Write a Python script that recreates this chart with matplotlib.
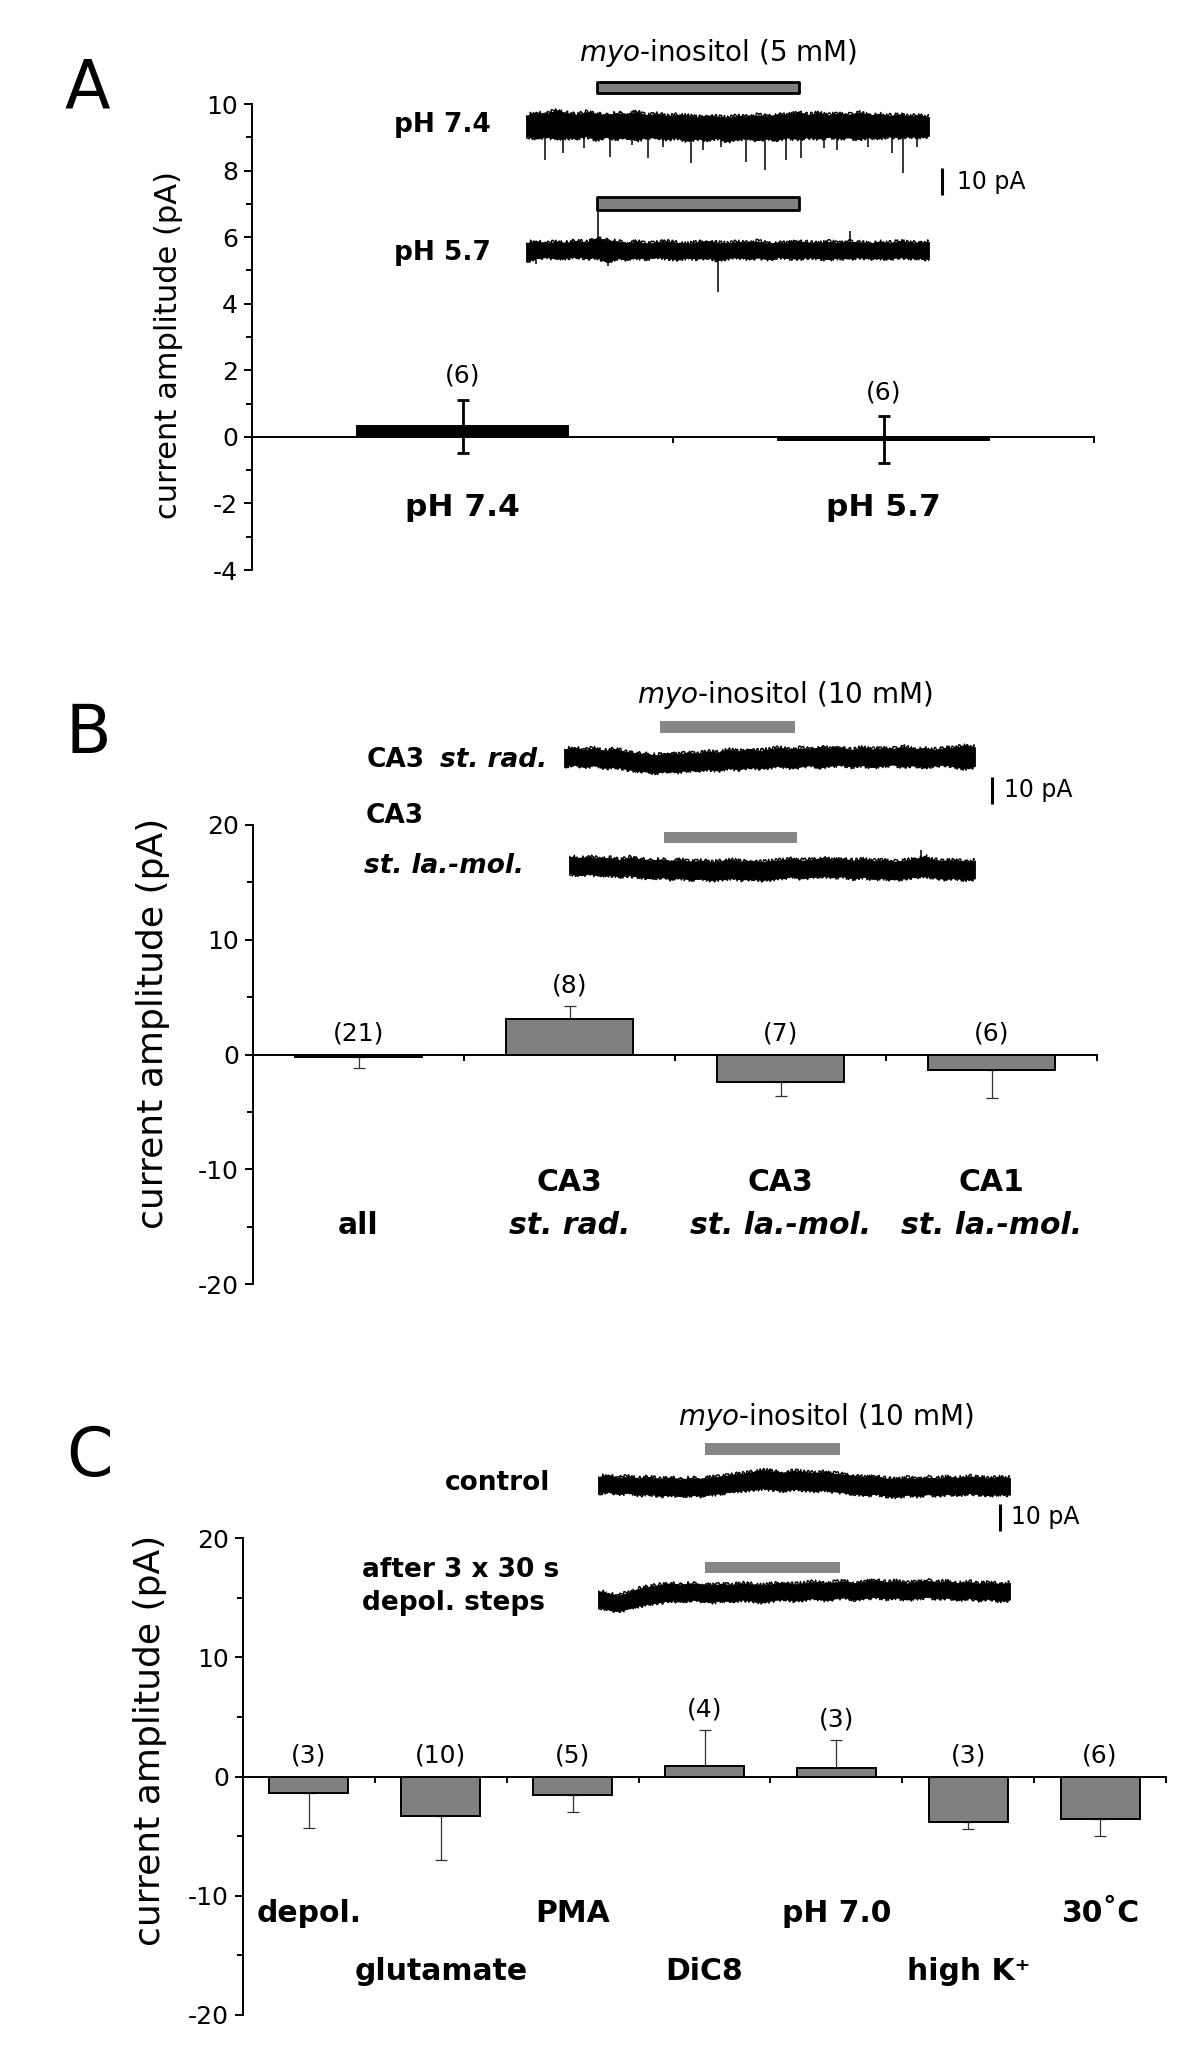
import matplotlib
matplotlib.use('Agg')
import matplotlib.pyplot as plt
import numpy as np
from matplotlib.ticker import MultipleLocator
from matplotlib.transforms import blended_transform_factory

plt.rcParams['font.family'] = ['DejaVu Sans']
plt.rcParams['mathtext.fontset'] = 'dejavusans'
plt.rcParams['axes.unicode_minus'] = False

# ---------------- data ----------------
A_cats = ['pH 7.4', 'pH 5.7']
A_vals = [0.32, -0.08]
A_err = [0.80, 0.70]
A_n = ['(6)', '(6)']

B_cats_top = ['', 'CA3', 'CA3', 'CA1']
B_cats_bot = ['all', 'st. rad.', 'st. la.-mol.', 'st. la.-mol.']
B_vals = [-0.20, 3.08, -2.44, -1.37]
B_err = [0.96, 1.16, 1.22, 2.41]
B_n = ['(21)', '(8)', '(7)', '(6)']

C_cats = ['depol.', 'glutamate', 'PMA', 'DiC8', 'pH 7.0', 'high K\u207a', '30\u02daC']
C_vals = [-1.42, -3.30, -1.51, 0.89, 0.73, -3.83, -3.55]
C_err = [2.94, 3.74, 1.45, 2.99, 2.31, 0.56, 1.42]
C_n = ['(3)', '(10)', '(5)', '(4)', '(3)', '(3)', '(6)']

# example traces: upper / lower envelope (pA), 120 s recordings
A74_hi = [3.4, 4.6, 4.0, 5.4, 4.4, 3.8, 4.8, 4.2, 3.6, 4.4, 4.0, 4.8, 3.6, 4.2, 3.2, 3.8, 3.4, 2.8, 3.6, 3.0,
          2.6, 3.4, 3.0, 3.6, 3.2, 4.0, 3.6, 4.8, 3.8, 4.4, 3.6, 4.2, 3.8, 4.6, 3.6, 4.0, 3.4, 3.8, 3.2, 3.6, 3.0]
A74_lo = [-4.0, -5.0, -4.2, -5.2, -4.6, -4.8, -4.0, -5.4, -4.4, -5.0, -4.6, -5.6, -4.4, -4.8, -5.2, -4.6, -5.8,
          -5.0, -5.4, -4.8, -6.0, -5.2, -4.8, -5.6, -5.0, -5.4, -4.6, -5.2, -4.4, -5.0, -4.4, -4.8, -4.6, -5.2,
          -4.4, -4.8, -4.2, -4.6, -4.2, -4.4, -4.0]
A74_spike_t = [5.8, 11.0, 17.3, 25.0, 31.6, 36.2, 40.8, 49.1, 52.8, 58.1, 65.4, 71.3, 77.3, 82.0, 88.6,
               92.5, 101.9, 109.1, 112.2, 116.4]
A74_spike_pA = [-13.0, -10.5, -8.6, -11.7, -7.4, -12.3, -8.0, -14.2, -9.3, -8.0, -13.6, -16.7, -13.0,
                -12.3, -8.6, -9.3, -8.0, -10.5, -17.9, -8.0]

A57_hi = [2.6, 3.2, 2.4, 3.0, 2.6, 3.4, 2.8, 4.4, 3.6, 3.2, 2.6, 3.0, 2.4, 2.8, 3.2, 2.6, 2.2, 2.8, 3.4, 2.6,
          2.4, 3.0, 2.6, 3.2, 2.4, 2.8, 2.6, 3.2, 2.8, 2.4, 3.0, 2.6, 3.2, 2.8, 2.4, 3.0, 2.6, 3.2, 2.8, 2.6, 3.0]
A57_lo = [-4.0, -3.0, -2.6, -3.2, -2.8, -2.4, -3.0, -2.6, -4.4, -3.0, -3.4, -2.8, -3.2, -2.6, -3.0, -3.4, -2.8,
          -3.2, -2.6, -3.8, -3.0, -2.6, -3.2, -2.8, -3.4, -2.6, -3.0, -3.2, -2.6, -3.0, -3.4, -2.8, -3.2, -2.6,
          -3.0, -2.8, -3.2, -2.6, -3.0, -2.8, -3.4]
A57_spike_t = [57.2, 24.4, 3.0]
A57_spike_pA = [-15.6, -6.0, -5.0]
A57_up_t = [96.6]
A57_up_pA = [7.0]

B1_hi = [3.2, 3.8, 3.0, 3.6, 2.6, 3.4, 2.2, 1.8, 1.4, 1.0, 1.8, 1.2, 2.0, 1.6, 2.4, 2.0, 3.0, 2.4, 3.4, 2.6,
         3.2, 3.8, 3.0, 3.6, 3.2, 4.2, 3.4, 3.8, 3.0, 3.8, 3.2, 3.6, 3.4, 4.2, 3.2, 3.6, 3.0, 3.6, 3.8, 4.6, 4.0]
B1_lo = [-3.0, -2.4, -3.4, -2.6, -3.6, -3.2, -4.0, -4.6, -5.0, -5.4, -4.8, -5.2, -4.4, -4.8, -4.0, -4.6, -3.6,
         -4.2, -3.2, -3.8, -3.4, -2.8, -3.6, -3.2, -2.6, -3.4, -2.8, -2.4, -3.2, -2.6, -3.4, -2.8, -2.4, -3.2,
         -2.6, -3.4, -2.8, -2.4, -3.2, -3.8, -3.0]
B2_hi = [3.6, 2.8, 3.4, 2.6, 3.0, 2.2, 3.2, 2.6, 2.0, 2.4, 1.8, 2.2, 1.6, 2.0, 1.4, 1.8, 2.2, 1.6, 2.0, 1.4,
         1.8, 2.2, 2.6, 2.0, 2.4, 3.0, 2.2, 2.6, 2.0, 2.4, 1.8, 2.2, 1.6, 2.0, 2.4, 3.6, 2.2, 1.8, 2.2, 1.6, 2.0]
B2_lo = [-2.6, -3.4, -2.8, -3.6, -3.2, -3.8, -3.4, -4.0, -4.6, -4.0, -4.8, -4.4, -5.0, -4.6, -5.2, -4.8, -4.4,
         -5.0, -4.6, -5.2, -4.8, -4.4, -3.8, -4.6, -4.0, -3.6, -4.2, -3.8, -4.6, -4.0, -4.8, -4.4, -5.0, -4.6,
         -4.0, -3.6, -4.2, -4.8, -4.4, -5.0, -4.6]
B2_up_t = [104.0]
B2_up_pA = [6.0]

C1_hi = [3.0, 3.6, 2.6, 3.2, 2.4, 3.0, 2.2, 2.8, 2.0, 2.6, 2.2, 2.8, 3.2, 3.8, 4.2, 4.8, 5.4, 5.0, 4.6, 5.2,
         4.8, 4.4, 4.8, 4.2, 3.8, 3.4, 2.8, 3.2, 2.4, 2.0, 2.6, 2.2, 2.8, 2.4, 3.0, 2.6, 3.2, 2.8, 2.4, 3.0, 2.6]
C1_lo = [-3.0, -2.4, -3.4, -2.8, -3.6, -3.2, -4.0, -3.4, -4.2, -3.6, -4.0, -3.4, -3.0, -2.4, -2.0, -1.6, -1.2,
         -1.6, -2.0, -1.4, -1.8, -2.2, -1.8, -2.4, -2.8, -3.2, -3.8, -3.2, -4.0, -4.4, -3.6, -4.0, -3.4, -3.8,
         -3.2, -3.6, -3.0, -3.4, -3.8, -3.2, -3.6]
C2_hi = [0.4, -0.6, -1.4, -0.2, 1.2, 2.0, 2.6, 3.2, 2.6, 3.2, 2.8, 2.4, 3.0, 2.6, 3.2, 2.8, 2.4, 3.0, 3.6, 2.8,
         3.2, 3.8, 3.0, 3.6, 4.0, 3.2, 3.8, 4.4, 3.6, 4.0, 3.2, 3.8, 4.2, 3.6, 4.0, 3.2, 3.8, 3.0, 3.6, 2.8, 3.4]
C2_lo = [-5.4, -6.4, -7.2, -6.0, -5.0, -4.2, -3.8, -3.0, -3.6, -2.8, -3.2, -3.8, -3.0, -3.6, -2.8, -3.2, -3.8,
         -3.0, -2.4, -3.2, -2.8, -2.2, -3.0, -2.4, -2.0, -2.8, -2.2, -1.8, -2.4, -2.0, -2.8, -2.2, -1.8, -2.4,
         -2.0, -2.8, -2.2, -3.0, -2.4, -3.2, -2.8]

T_REC = 120.0
A_appl = (21.1, 81.3)
B_appl = (28.0, 67.4)
C_appl = (31.2, 70.5)

# ---------------- figure ----------------
W, H = 1200, 2063
fig = plt.figure(figsize=(W / 100, H / 100), dpi=100)

NOISE = (2.2, 2.5, 3.0)  # sketch style for trace edges (amplitude px, length px, randomness)


def px_rect(x0, y0, x1, y1):
    return [x0 / W, 1 - y1 / H, (x1 - x0) / W, (y1 - y0) / H]


def style_axes(ax, ylim, major, minor, ncat):
    ax.set_xlim(0.5, ncat + 0.5)
    ax.set_ylim(*ylim)
    ax.spines['top'].set_visible(False)
    ax.spines['right'].set_visible(False)
    ax.spines['bottom'].set_position(('data', 0))
    for s in ('left', 'bottom'):
        ax.spines[s].set_linewidth(1.4)
    ax.yaxis.set_major_locator(MultipleLocator(major))
    ax.yaxis.set_minor_locator(MultipleLocator(minor))
    ax.set_xticks(np.arange(1.5, ncat + 0.6, 1.0))
    ax.tick_params(axis='x', direction='out', length=4, width=1.4, labelbottom=False)
    ax.tick_params(axis='y', which='major', direction='out', length=6, width=1.4, labelsize=18, pad=4)
    ax.tick_params(axis='y', which='minor', direction='out', length=4, width=1.4)
    ax.patch.set_visible(False)


def one_sided(vals, errs):
    lower = [e if v < 0 else 0 for v, e in zip(vals, errs)]
    upper = [e if v >= 0 else 0 for v, e in zip(vals, errs)]
    return lower, upper


def trace_axes(x0, x1, yc, ppp=2.7, hh=80):
    ax = fig.add_axes(px_rect(x0, yc - hh, x1, yc + hh))
    ax.set_xlim(0, T_REC)
    ax.set_ylim(-hh / ppp, hh / ppp)
    ax.axis('off')
    ax.patch.set_visible(False)
    return ax


def draw_trace(ax, hi, lo):
    t = np.linspace(0, T_REC, len(hi))
    pc = ax.fill_between(t, lo, hi, color='black', linewidth=0.6)
    pc.set_sketch_params(*NOISE)
    for edge in (hi, lo):
        ln, = ax.plot(t, edge, color='black', lw=1.0)
        ln.set_sketch_params(*NOISE)


def appl_bar(ax, appl, y0, h, edge):
    if edge:
        ax.broken_barh([(appl[0], appl[1] - appl[0])], (y0, h), facecolors='#808080',
                       edgecolors='black', linewidth=2.0)
    else:
        ax.broken_barh([(appl[0], appl[1] - appl[0])], (y0, h), facecolors='#878787',
                       edgecolors='none')


def scale_bar(ax, tx, ymid, ttx):
    ax.plot([tx, tx], [ymid - 5, ymid + 5], color='black', lw=2.2, clip_on=False, solid_capstyle='butt')
    ax.text(ttx, ymid, '10 pA', fontsize=17, va='center', ha='left', clip_on=False)


def fig_text(x, y, s, **kw):
    return fig.text(x / W, 1 - y / H, s, **kw)


# ================= Panel A =================
axA = fig.add_axes(px_rect(252, 104, 1094, 570))
style_axes(axA, (-4, 10), 2, 1, 2)
xA = np.arange(1, 3)
axA.bar(xA, A_vals, width=0.5, color='black', edgecolor='black', linewidth=1.4, zorder=2)
axA.errorbar(xA, A_vals, yerr=A_err, fmt='none', ecolor='black', elinewidth=2.0, capsize=4,
             capthick=2.0, zorder=3)
for x, v, e, n in zip(xA, A_vals, A_err, A_n):
    axA.annotate(n, (x, v + e), xytext=(0, 17), textcoords='offset points', ha='center',
                 va='center', fontsize=18)
trA = blended_transform_factory(axA.transData, fig.transFigure)
for x, c in zip(xA, A_cats):
    axA.text(x, 1 - 516 / H, c, transform=trA, ha='center', va='baseline', fontsize=22.5,
             fontweight='bold')
fig_text(168, 345, 'current amplitude (pA)', rotation=90, ha='center', va='center', fontsize=22)
fig_text(64, 109, 'A', fontsize=48, ha='left', va='baseline')
fig_text(718, 53, r'$\it{myo}$-inositol (5 mM)', fontsize=20, ha='center', va='center')

tA1 = trace_axes(526, 929, 125)
draw_trace(tA1, A74_hi, A74_lo)
tA1.vlines(A74_spike_t, -3.5, A74_spike_pA, color='black', lw=1.1)
appl_bar(tA1, A_appl, 11.9, 4.0, True)
scale_bar(tA1, 123.9, -21.1, 128.3)
fig_text(442, 132, 'pH 7.4', fontsize=19, fontweight='bold', ha='center', va='baseline')

tA2 = trace_axes(526, 929, 250)
draw_trace(tA2, A57_hi, A57_lo)
tA2.vlines(A57_spike_t, -2.5, A57_spike_pA, color='black', lw=1.1)
tA2.vlines(A57_up_t, 2.0, A57_up_pA, color='black', lw=1.1)
tA2.vlines([A_appl[0] + 0.4], 2.5, 14.8, color='black', lw=1.1)
appl_bar(tA2, A_appl, 14.8, 4.8, True)
fig_text(442, 260, 'pH 5.7', fontsize=19, fontweight='bold', ha='center', va='baseline')

# ================= Panel B =================
axB = fig.add_axes(px_rect(253, 825, 1097, 1284))
style_axes(axB, (-20, 20), 10, 5, 4)
xB = np.arange(1, 5)
lo_e, up_e = one_sided(B_vals, B_err)
axB.errorbar(xB, B_vals, yerr=[lo_e, up_e], fmt='none', ecolor='#333333', elinewidth=0.9, capsize=4,
             capthick=0.9, zorder=1)
axB.bar(xB, B_vals, width=0.6, color='#808080', edgecolor='black', linewidth=1.4, zorder=2)
for x, v, u, n in zip(xB, B_vals, up_e, B_n):
    axB.annotate(n, (x, max(v + u, 0)), xytext=(0, 15), textcoords='offset points', ha='center',
                 va='center', fontsize=18)
trB = blended_transform_factory(axB.transData, fig.transFigure)
for x, c1, c2 in zip(xB, B_cats_top, B_cats_bot):
    if c1:
        axB.text(x, 1 - 1191 / H, c1, transform=trB, ha='center', va='baseline', fontsize=21.5,
                 fontweight='bold')
    axB.text(x, 1 - 1234 / H, c2, transform=trB, ha='center', va='baseline', fontsize=21.5,
             fontweight='bold', fontstyle='normal' if c2 == 'all' else 'italic')
fig_text(153, 1023, 'current amplitude (pA)', rotation=90, ha='center', va='center', fontsize=26)
fig_text(66, 753, 'B', fontsize=48, ha='left', va='baseline')
fig_text(785, 695, r'$\it{myo}$-inositol (10 mM)', fontsize=20, ha='center', va='center')

tB1 = trace_axes(564, 975, 758)
draw_trace(tB1, B1_hi, B1_lo)
appl_bar(tB1, B_appl, 9.3, 4.4, False)
scale_bar(tB1, 125.0, -12.0, 128.4)
fig_text(367, 767, 'CA3', fontsize=19, fontweight='bold', ha='left', va='baseline')
fig_text(547, 767, 'st. rad.', fontsize=19, fontweight='bold', fontstyle='italic', ha='right',
         va='baseline')

tB2 = trace_axes(569, 975, 866)
draw_trace(tB2, B2_hi, B2_lo)
tB2.vlines(B2_up_t, 2.0, B2_up_pA, color='black', lw=1.1)
appl_bar(tB2, B_appl, 8.5, 4.1, False)
fig_text(366, 823, 'CA3', fontsize=19, fontweight='bold', ha='left', va='baseline')
fig_text(364, 873, 'st. la.-mol.', fontsize=19, fontweight='bold', fontstyle='italic', ha='left',
         va='baseline')

# ================= Panel C =================
axC = fig.add_axes(px_rect(243, 1538, 1166, 2015))
style_axes(axC, (-20, 20), 10, 5, 7)
xC = np.arange(1, 8)
lo_e, up_e = one_sided(C_vals, C_err)
axC.errorbar(xC, C_vals, yerr=[lo_e, up_e], fmt='none', ecolor='#333333', elinewidth=0.9, capsize=4,
             capthick=0.9, zorder=1)
axC.bar(xC, C_vals, width=0.6, color='#808080', edgecolor='black', linewidth=1.4, zorder=2)
for x, v, u, n in zip(xC, C_vals, up_e, C_n):
    axC.annotate(n, (x, max(v + u, 0)), xytext=(0, 15), textcoords='offset points', ha='center',
                 va='center', fontsize=18)
trC = blended_transform_factory(axC.transData, fig.transFigure)
for i, (x, c) in enumerate(zip(xC, C_cats)):
    yb = 1922 if i % 2 == 0 else 1980
    axC.text(x, 1 - yb / H, c, transform=trC, ha='center', va='baseline', fontsize=21.5,
             fontweight='bold')
fig_text(150, 1740, 'current amplitude (pA)', rotation=90, ha='center', va='center', fontsize=26)
fig_text(66, 1476, 'C', fontsize=48, ha='left', va='baseline')
fig_text(826, 1417, r'$\it{myo}$-inositol (10 mM)', fontsize=20, ha='center', va='center')

tC1 = trace_axes(598, 1010, 1485)
draw_trace(tC1, C1_hi, C1_lo)
appl_bar(tC1, C_appl, 11.1, 4.5, False)
scale_bar(tC1, 117.1, -12.0, 120.3)
fig_text(550, 1490, 'control', fontsize=19, fontweight='bold', ha='right', va='baseline')

tC2 = trace_axes(598, 1010, 1592)
draw_trace(tC2, C2_hi, C2_lo)
appl_bar(tC2, C_appl, 7.0, 4.1, False)
fig_text(362, 1577, 'after 3 x 30 s', fontsize=19, fontweight='bold', ha='left', va='baseline')
fig_text(362, 1610, 'depol. steps', fontsize=19, fontweight='bold', ha='left', va='baseline')

fig.savefig('out.png', dpi=100, facecolor='white')
